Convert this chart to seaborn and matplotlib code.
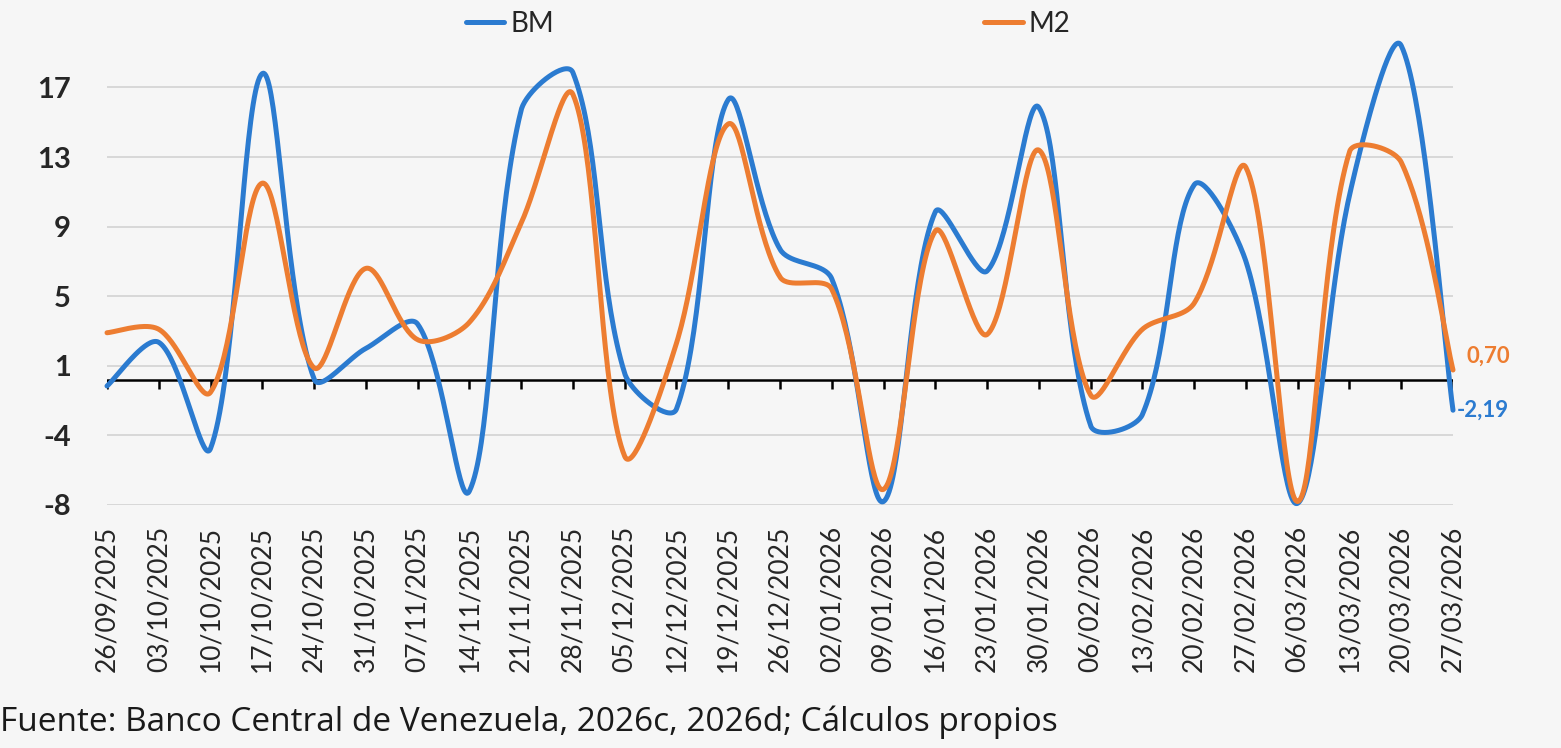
import numpy as np
import matplotlib
matplotlib.use("Agg")
import matplotlib.pyplot as plt
import seaborn as sns

# datos semanales (variación %)
FECHAS = ["26/09/2025", "03/10/2025", "10/10/2025", "17/10/2025", "24/10/2025",
          "31/10/2025", "07/11/2025", "14/11/2025", "21/11/2025", "28/11/2025",
          "05/12/2025", "12/12/2025", "19/12/2025", "26/12/2025", "02/01/2026",
          "09/01/2026", "16/01/2026", "23/01/2026", "30/01/2026", "06/02/2026",
          "13/02/2026", "20/02/2026", "27/02/2026", "06/03/2026", "13/03/2026",
          "20/03/2026", "27/03/2026"]
BM = [-0.45, 2.35, -4.75, 17.8, 0.05, 2.0, 3.4, -7.2, 15.7, 17.85, 0.45, -2.1,
      16.3, 7.7, 6.0, -7.8, 9.85, 6.45, 15.85, -3.3, -2.5, 11.4, 7.0, -7.9,
      10.8, 19.4, -2.19]
M2 = [2.9, 3.1, -0.9, 11.5, 0.85, 6.6, 2.5, 3.5, 9.2, 16.6, -5.2, 2.3,
      14.9, 6.1, 5.4, -7.1, 8.75, 2.8, 13.4, -1.1, 3.1, 4.6, 12.4, -7.8,
      13.3, 12.7, 0.70]
Y_TICKS = [-8, -4, 1, 5, 9, 13, 17]

AZUL = "#2b7bd0"
NARANJA = "#ed7d31"
FONDO = "#f6f6f6"

# eje Y con marcas equiespaciadas (como el original)
_bv = [-40, -8, -4, 1, 5, 9, 13, 17, 50]
_bp = [-8, 0, 1, 2, 3, 4, 5, 6, 6 + 33 / 4]


def fwd(v):
    return np.interp(v, _bv, _bp)


def inv(p):
    return np.interp(p, _bp, _bv)


def suavizar(x, y, n=40, sx=0.745):
    """Línea suavizada estilo Excel: Bezier con tangentes ponderadas por
    la longitud de cada tramo (medida en el espacio del gráfico)."""
    pts = np.column_stack([np.asarray(x, float) * sx, fwd(np.asarray(y, float))])
    m = len(pts)
    d = np.linalg.norm(np.diff(pts, axis=0), axis=1)
    t = np.linspace(0, 1, n)[:, None]
    out = []
    for i in range(m - 1):
        p0, p3 = pts[i], pts[i + 1]
        a = pts[i - 1] if i > 0 else p0
        dprev = d[i - 1] if i > 0 else d[i]
        b = pts[i + 2] if i + 2 < m else p3
        dnext = d[i + 1] if i + 2 < m else d[i]
        c1 = p0 + (p3 - a) * d[i] / (dprev + d[i]) / 3
        c2 = p3 - (b - p0) * d[i] / (d[i] + dnext) / 3
        seg = (1 - t) ** 3 * p0 + 3 * (1 - t) ** 2 * t * c1 \
            + 3 * (1 - t) * t ** 2 * c2 + t ** 3 * p3
        out.append(seg)
    out = np.vstack(out)
    return out[:, 0] / sx, inv(out[:, 1])


sns.set_style("white")
plt.rcParams["font.family"] = ["Lato", "DejaVu Sans"]

fig = plt.figure(figsize=(15.61, 7.48), dpi=100, facecolor=FONDO)
ax = fig.add_axes([0.06855, 0.32487, 0.86227, 0.635])
ax.set_facecolor("none")
ax.set_yscale("function", functions=(fwd, inv))

idx = np.arange(len(FECHAS))
for serie, color, nombre in [(BM, AZUL, "BM"), (M2, NARANJA, "M2")]:
    xs, ys = suavizar(idx, serie)
    sns.lineplot(x=xs, y=ys, sort=False, estimator=None, ax=ax, color=color,
                 linewidth=3.6, label=nombre, clip_on=False, zorder=3)

ax.set_xlim(0, len(FECHAS) - 1)
ax.set_ylim(-8, 20.3)
ax.set_yticks(Y_TICKS)
ax.set_yticklabels([str(v) for v in Y_TICKS], fontsize=21, fontweight="bold")
ax.tick_params(axis="y", length=0, pad=26)
ax.yaxis.grid(True, color="#d2d2d2", linewidth=1.2)
ax.set_axisbelow(True)
for s in ["top", "right", "left", "bottom"]:
    ax.spines[s].set_visible(False)

# eje horizontal en cero con marcas hacia abajo en cada fecha
ax.axhline(0, color="black", linewidth=1.8, zorder=2)
ax.vlines(idx, inv(fwd(0) - 0.14), 0, color="black", linewidth=1.8, zorder=2)
ax.set_xticks(idx)
ax.tick_params(axis="x", length=0, labelbottom=False)
ax.set_xlabel("")
ax.set_ylabel("")

# fechas al pie del gráfico
sec = ax.secondary_xaxis("bottom")
sec.set_xticks(idx)
sec.set_xticklabels(FECHAS, rotation=90, fontsize=19, va="top")
sec.tick_params(length=0, pad=15)
sec.spines["bottom"].set_visible(False)

# etiquetas del último valor
ax.annotate(f"{M2[-1]:.2f}".replace(".", ","), (idx[-1], M2[-1]),
            xytext=(10, 10), textcoords="offset points", color=NARANJA,
            fontsize=16, fontweight="bold", va="center", ha="left")
ax.annotate(f"{BM[-1]:.2f}".replace(".", ","), (idx[-1], BM[-1]),
            xytext=(3, 0), textcoords="offset points", color=AZUL,
            fontsize=16, fontweight="bold", va="center", ha="left")

h, l = ax.get_legend_handles_labels()
ax.get_legend().remove()
fig.legend(h, l, loc="center", bbox_to_anchor=(768 / 1561, 1 - 24 / 748),
           ncol=2, frameon=False, fontsize=20, handlelength=1.4,
           handletextpad=0.2, columnspacing=15.5)

fig.text(0.0, 9 / 748, "Fuente: Banco Central de Venezuela, 2026c, 2026d; Cálculos propios",
         fontsize=24, family=["Open Sans", "DejaVu Sans"], color="#1a1a1a",
         ha="left", va="bottom")

fig.savefig("out.png", dpi=100, facecolor=FONDO)
